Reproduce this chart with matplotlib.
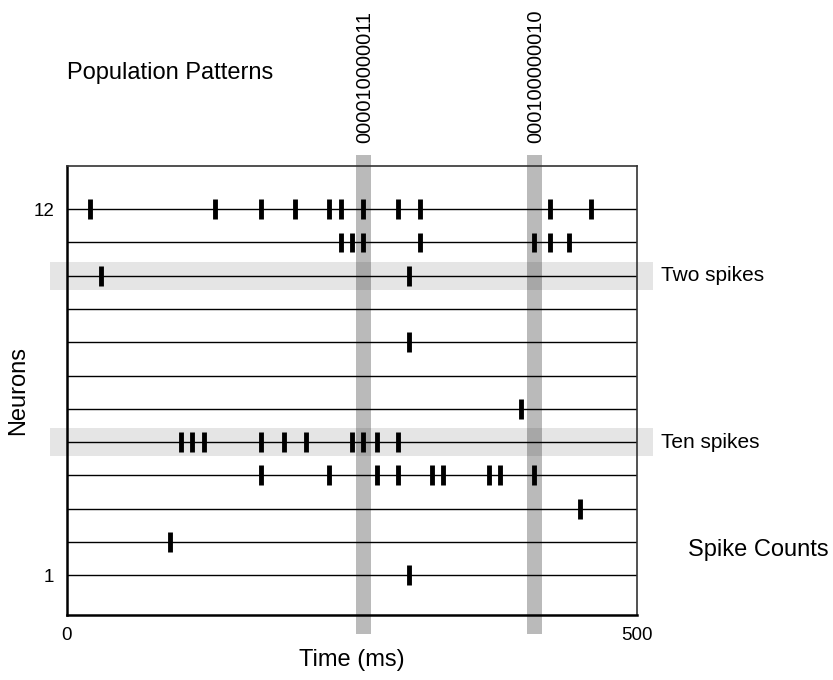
import numpy as np
import matplotlib
matplotlib.use("Agg")
import matplotlib.pyplot as plt
from matplotlib.patches import Rectangle

plt.rcParams['font.family'] = ['Liberation Sans', 'DejaVu Sans']

# spike times (ms) per neuron, neuron 1 first
spikes = [
    [300],
    [90],
    [450],
    [170, 230, 272, 290, 320, 330, 370, 380, 410],
    [100, 110, 120, 170, 190, 210, 250, 260, 272, 290],
    [398],
    [],
    [300],
    [],
    [30, 300],
    [240, 250, 260, 310, 410, 424, 440],
    [20, 130, 170, 200, 230, 240, 260, 290, 310, 424, 460],
]
neurons = np.arange(1, 13)

pattern_times = [260, 410]
pattern_labels = ["000010000011", "000100000010"]

highlight_rows = [10, 5]
highlight_labels = ["Two spikes", "Ten spikes"]

fig = plt.figure(figsize=(8.33, 6.8), dpi=100)
ax = fig.add_axes([0.0804, 0.0956, 0.6843, 0.6603])
ax.set_xlim(0, 500)
ax.set_ylim(-0.2, 13.3)

# vertical pattern bands
for t, lab in zip(pattern_times, pattern_labels):
    ax.add_patch(Rectangle((t - 6.5, -0.77), 13, 14.39, facecolor='k', alpha=0.27,
                           edgecolor='none', clip_on=False, zorder=1))
    ax.text(t + 1, 14.0, lab, rotation=90, ha='center', va='bottom', fontsize=14.5,
            clip_on=False)

# horizontal highlight bands
for r, lab in zip(highlight_rows, highlight_labels):
    ax.add_patch(Rectangle((-15, r - 0.42), 529, 0.84, facecolor='k', alpha=0.1,
                           edgecolor='none', clip_on=False, zorder=1))
    ax.text(521, r, lab, ha='left', va='center', fontsize=15, clip_on=False)

ax.hlines(neurons, 0, 500, color='k', linewidth=1.0, zorder=2)
ax.eventplot(spikes, lineoffsets=neurons, linelengths=0.6, linewidths=3.5,
             colors='k', zorder=3)

ax.set_xticks([0, 500])
ax.set_yticks([1, 12])
ax.tick_params(length=0, labelsize=13.5)
ax.tick_params(axis='x', pad=9)
ax.tick_params(axis='y', pad=9)
ax.set_xlabel("Time (ms)", fontsize=17, labelpad=3)
ax.set_ylabel("Neurons", fontsize=17, labelpad=3)

for s in ['left', 'bottom']:
    ax.spines[s].set_linewidth(1.8)
for s in ['top', 'right']:
    ax.spines[s].set_linewidth(1.2)
    ax.spines[s].set_color('#333333')

fig.text(67 / 833, 1 - 73 / 680, "Population Patterns", fontsize=17, va='center')
fig.text(688 / 833, 1 - 550 / 680, "Spike Counts", fontsize=17, va='center')

fig.savefig("out.png", dpi=100)
